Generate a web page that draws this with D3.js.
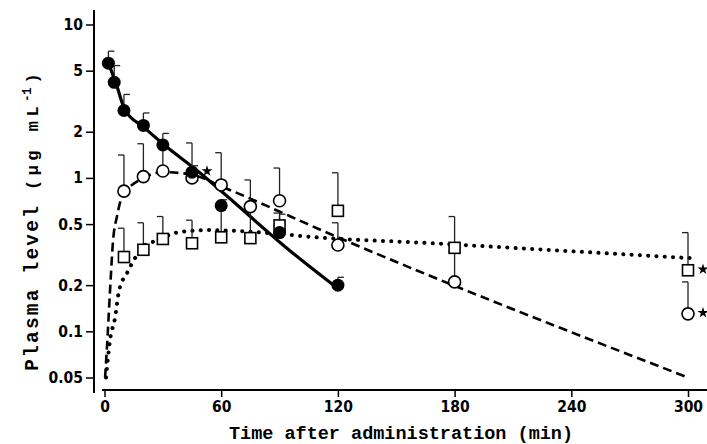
<!DOCTYPE html>
<html>
<head>
<meta charset="utf-8">
<script src="https://cdn.jsdelivr.net/npm/d3@7"></script>
<style>
  body { margin: 0; background: #fff; }
  svg { display: block; }
  .tick text { font-family: "Liberation Sans Narrow", "DejaVu Sans Condensed", "Liberation Sans", sans-serif; font-weight: bold; font-size: 15.5px; fill: #000; }
  .title { font-family: "Liberation Mono", "DejaVu Sans Mono", monospace; font-weight: bold; fill: #000; }
</style>
</head>
<body>
<div id="chart"></div>
<script>
// measured points (time in min, plasma level in ug/mL)
const filledTime = [2, 5, 10, 20, 30, 45, 60, 90, 120];
const filledMean = [5.6, 4.2, 2.75, 2.2, 1.64, 1.09, 0.66, 0.44, 0.2];
const filledUpper = [6.7, 5.4, 3.5, 2.65, 1.95, 1.2, 0.72, 0.58, 0.225];

const openTime = [10, 20, 30, 45, 60, 75, 90, 120, 180, 300];
const openMean = [0.82, 1.02, 1.11, 1.0, 0.9, 0.65, 0.71, 0.365, 0.21, 0.13];
const openUpper = [1.41, 1.67, 1.65, 1.69, 1.46, 0.97, 1.16, 0.51, 0.33, 0.21];

const squareTime = [10, 20, 30, 45, 60, 75, 90, 120, 180, 300];
const squareMean = [0.305, 0.34, 0.4, 0.375, 0.41, 0.405, 0.49, 0.61, 0.35, 0.25];
const squareUpper = [0.47, 0.51, 0.56, 0.53, 0.65, 0.64, 0.59, 1.08, 0.56, 0.44];

// fitted curves
const solidTime = [1.3, 6, 10.5, 20, 30, 49, 61, 95, 120.5];
const solidValue = [5.9, 4.1, 2.78, 2.15, 1.67, 1.08, 0.8, 0.338, 0.188];

const dashTime = [0.3, 1.3, 2.8, 4.4, 6.4, 9, 20, 30, 45, 61, 120, 300];
const dashValue = [0.05, 0.08, 0.18, 0.39, 0.56, 0.75, 1.0, 1.09, 1.05, 0.87, 0.41, 0.05];

const dotTime = [0.8, 2.8, 5.4, 7.5, 11.6, 15.7, 20.8, 27, 37, 54, 81.5, 109, 167, 203, 301];
const dotValue = [0.05, 0.087, 0.122, 0.185, 0.24, 0.3, 0.365, 0.39, 0.44, 0.457, 0.44, 0.41, 0.376, 0.354, 0.3];

// significance stars
const starFilled = [45];
const starOpen = [300];
const starSquare = [300];

const xTicks = [0, 60, 120, 180, 240, 300];
const yTicks = [0.05, 0.1, 0.2, 0.5, 1, 2, 5, 10];

const width = 707, height = 444;

const svg = d3.select("#chart").append("svg")
  .attr("width", width)
  .attr("height", height);

const x = d3.scaleLinear().domain([0, 300]).range([104.5, 688]);
const y = d3.scaleLog().domain([0.05, 10]).range([377.5, 24.5]);

// axes
const yAxis = d3.axisLeft(y).tickValues(yTicks).tickFormat(d3.format("~g")).tickSize(8).tickPadding(3);
const gy = svg.append("g").attr("transform", "translate(94,0)").call(yAxis);
gy.select(".domain").remove();
gy.selectAll(".tick line").attr("stroke", "#000").attr("stroke-width", 1.5);
gy.append("line").attr("x1", 0).attr("x2", 0).attr("y1", 10).attr("y2", 393)
  .attr("stroke", "#000").attr("stroke-width", 2);

const xAxis = d3.axisBottom(x).tickValues(xTicks).tickSize(7).tickPadding(4);
const gx = svg.append("g").attr("transform", "translate(0,390)").call(xAxis);
gx.select(".domain").remove();
gx.selectAll(".tick line").attr("stroke", "#000").attr("stroke-width", 1.5);
gx.append("line").attr("x1", 102).attr("x2", 707).attr("y1", 0).attr("y2", 0)
  .attr("stroke", "#000").attr("stroke-width", 2);

// titles
svg.append("text").attr("class", "title")
  .attr("x", 401).attr("y", 439)
  .attr("text-anchor", "middle")
  .style("font-size", "18.5px")
  .text("Time after administration (min)");

const yt = svg.append("text").attr("class", "title")
  .attr("transform", "translate(38,222) rotate(-90)")
  .attr("text-anchor", "middle");
yt.append("tspan").style("font-size", "19.5px").style("letter-spacing", "2.2px").text("Plasma level ");
yt.append("tspan").style("font-size", "17px").style("letter-spacing", "4.5px").text("(μg mL");
yt.append("tspan").style("font-size", "12px").attr("dy", -7).text("-1");
yt.append("tspan").style("font-size", "17px").attr("dy", 7).attr("dx", 4).text(")");

// curves
const line = d3.line().x(d => x(d[0])).y(d => y(d[1])).curve(d3.curveMonotoneX);

svg.append("path").datum(d3.zip(dotTime, dotValue))
  .attr("d", line).attr("fill", "none").attr("stroke", "#000")
  .attr("stroke-width", 4).attr("stroke-linecap", "round")
  .attr("stroke-dasharray", "0.1 8.2");

svg.append("path").datum(d3.zip(dashTime, dashValue))
  .attr("d", line).attr("fill", "none").attr("stroke", "#000")
  .attr("stroke-width", 2.6).attr("stroke-dasharray", "9 5");

svg.append("path").datum(d3.zip(solidTime, solidValue))
  .attr("d", line).attr("fill", "none").attr("stroke", "#000")
  .attr("stroke-width", 3.2);

// error bars: cap on the left for open symbols, right for filled
function errorBars(times, means, uppers, capDir) {
  const g = svg.append("g").attr("stroke", "#222").attr("stroke-width", 1.3).attr("fill", "none");
  times.forEach((t, i) => {
    const cx = x(t);
    g.append("line").attr("x1", cx).attr("x2", cx).attr("y1", y(means[i])).attr("y2", y(uppers[i]));
    g.append("line").attr("x1", cx).attr("x2", cx + capDir * 6).attr("y1", y(uppers[i])).attr("y2", y(uppers[i]));
  });
}
errorBars(squareTime, squareMean, squareUpper, -1);
errorBars(openTime, openMean, openUpper, -1);
errorBars(filledTime, filledMean, filledUpper, 1);

// markers
svg.append("g").selectAll("rect").data(d3.zip(squareTime, squareMean)).join("rect")
  .attr("x", d => x(d[0]) - 5.5).attr("y", d => y(d[1]) - 5.5)
  .attr("width", 11).attr("height", 11)
  .attr("fill", "#fff").attr("stroke", "#000").attr("stroke-width", 1.6);

svg.append("g").selectAll("circle").data(d3.zip(openTime, openMean)).join("circle")
  .attr("cx", d => x(d[0])).attr("cy", d => y(d[1])).attr("r", 6)
  .attr("fill", "#fff").attr("stroke", "#000").attr("stroke-width", 1.6);

svg.append("g").selectAll("circle").data(d3.zip(filledTime, filledMean)).join("circle")
  .attr("cx", d => x(d[0])).attr("cy", d => y(d[1])).attr("r", 6.5)
  .attr("fill", "#000");

// stars
const star = d3.symbol().type(d3.symbolStar).size(38);
function stars(list, times, means) {
  list.forEach(t => {
    const v = means[times.indexOf(t)];
    svg.append("path").attr("d", star)
      .attr("transform", "translate(" + (x(t) + 15) + "," + (y(v) - 1) + ")")
      .attr("fill", "#000");
  });
}
stars(starFilled, filledTime, filledMean);
stars(starOpen, openTime, openMean);
stars(starSquare, squareTime, squareMean);
</script>
</body>
</html>
